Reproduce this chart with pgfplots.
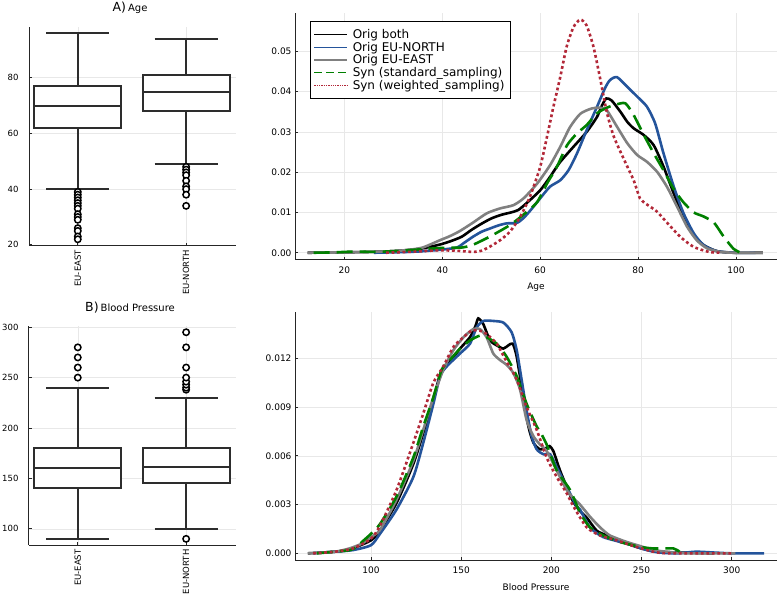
\documentclass[border=0pt]{standalone}
\usepackage{fontspec}
\setmainfont{DejaVu Sans}
\usepackage{pgfplots}
\pgfplotsset{compat=1.18}
\definecolor{cblue}{RGB}{36,84,155}
\definecolor{cred}{RGB}{178,40,56}
\definecolor{cgreen}{RGB}{0,128,0}
\definecolor{cgray}{RGB}{128,128,128}
\definecolor{boxc}{RGB}{45,45,45}
\pgfplotsset{
  base/.style={scale only axis, axis lines*=left,
    axis line style={line width=1pt, black!85},
    tick align=inside, major tick length=3pt,
    tick style={black!85, line width=0.8pt},
    grid=major, grid style={black!9, line width=0.5pt},
    ticklabel style={font=\fontsize{8.5}{10}\selectfont},
    /pgf/number format/assume math mode=true,
    label style={font=\fontsize{9}{10}\selectfont}},
  bl/.style={draw=boxc, line width=2pt, line join=miter, forget plot},
  out/.style={only marks, mark=*, mark size=3.2pt,
    mark options={line width=1.5pt, draw=black, fill=white, solid}, forget plot},
  dens/.style={line width=2.6pt, smooth, tension=0.4,},
  denax/.style={base, ticklabel style={font=\fontsize{9}{10}\selectfont},
    xticklabel style={yshift=-3pt}, xlabel style={yshift=-3pt}, scaled y ticks=false},
  box/.style={base, xmin=0.55, xmax=2.46, xtick={1,2},
    xticklabels={EU-EAST,EU-NORTH},
    x tick label style={rotate=90, anchor=east, font=\fontsize{8.5}{10}\selectfont, xshift=-1pt},
    yticklabel style={xshift=-7pt}},
}
\begin{document}
\begin{tikzpicture}
\useasboundingbox (0,0) rectangle (778pt,597pt);
% ---------------- A) Age boxplot
\begin{axis}[box, at={(29pt,351.3pt)}, anchor=south west,
  width=207pt, height=218.7pt, ymin=19.7, ymax=98.2, ytick={20,40,60,80}]
% EU-EAST: whiskers 40/96, quartiles 62/77, median 70
\addplot[bl] coordinates {(1,77) (1,96)};
\addplot[bl] coordinates {(1,62) (1,40)};
\addplot[bl] coordinates {(0.71,96) (1.29,96)};
\addplot[bl] coordinates {(0.71,40) (1.29,40)};
\addplot[bl, fill=white] coordinates {(0.6,62) (1.4,62) (1.4,77) (0.6,77)} -- cycle;
\addplot[bl] coordinates {(0.6,70) (1.4,70)};
\addplot[out] coordinates {(1,39) (1,38) (1,37) (1,36) (1,35) (1,34) (1,33) (1,31) (1,30) (1,29) (1,26) (1,25) (1,23) (1,22)};
% EU-NORTH: whiskers 49/94, quartiles 68/81, median 75
\addplot[bl] coordinates {(2,81) (2,94)};
\addplot[bl] coordinates {(2,68) (2,49)};
\addplot[bl] coordinates {(1.71,94) (2.29,94)};
\addplot[bl] coordinates {(1.71,49) (2.29,49)};
\addplot[bl, fill=white] coordinates {(1.6,68) (2.4,68) (2.4,81) (1.6,81)} -- cycle;
\addplot[bl] coordinates {(1.6,75) (2.4,75)};
\addplot[out] coordinates {(2,48) (2,47) (2,46) (2,45) (2,43) (2,41) (2,40) (2,38) (2,34)};
\end{axis}
\node at (130pt,589pt) {\fontsize{12.5}{13}\selectfont A)\,{\fontsize{10}{12}\selectfont Age}};
% ---------------- B) Blood pressure boxplot
\begin{axis}[box, at={(29pt,52pt)}, anchor=south west,
  width=207pt, height=219pt, ymin=83.9, ymax=301.2, ytick={100,150,200,250,300}]
% EU-EAST: whiskers 90/240, quartiles 140/180, median 160
\addplot[bl] coordinates {(1,180) (1,240)};
\addplot[bl] coordinates {(1,140) (1,90)};
\addplot[bl] coordinates {(0.71,240) (1.29,240)};
\addplot[bl] coordinates {(0.71,90) (1.29,90)};
\addplot[bl, fill=white] coordinates {(0.6,140) (1.4,140) (1.4,180) (0.6,180)} -- cycle;
\addplot[bl] coordinates {(0.6,160) (1.4,160)};
\addplot[out] coordinates {(1,250) (1,260) (1,270) (1,280)};
% EU-NORTH: whiskers 100/230, quartiles 145/180, median 161
\addplot[bl] coordinates {(2,180) (2,230)};
\addplot[bl] coordinates {(2,145) (2,100)};
\addplot[bl] coordinates {(1.71,230) (2.29,230)};
\addplot[bl] coordinates {(1.71,100) (2.29,100)};
\addplot[bl, fill=white] coordinates {(1.6,145) (2.4,145) (2.4,180) (1.6,180)} -- cycle;
\addplot[bl] coordinates {(1.6,161) (2.4,161)};
\addplot[out] coordinates {(2,90) (2,238) (2,240) (2,243) (2,246) (2,250) (2,260) (2,280) (2,295)};
\end{axis}
\node at (130pt,289pt) {\fontsize{12.5}{13}\selectfont B)\,{\fontsize{10}{12}\selectfont Blood Pressure}};
% ---------------- Age density
\begin{axis}[denax, at={(295pt,337pt)}, anchor=south west,
  width=482pt, height=247.3pt, xmin=9.9, xmax=108.4, ymin=-0.0018, ymax=0.0596,
  xtick={20,40,60,80,100}, ytick={0,0.01,0.02,0.03,0.04,0.05},
  yticklabel style={/pgf/number format/.cd, fixed, fixed zerofill, precision=2},
  xlabel={Age},
  legend cell align=left,
  legend style={at={(0.031,0.966)}, anchor=north west, draw=black, line width=0.8pt,
    font=\fontsize{12}{12}\selectfont, row sep=-2pt, inner xsep=3.5pt, inner ysep=6pt},
  legend image code/.code={\draw[#1, line width=1.2pt] (0pt,0pt) -- (33pt,0pt); \path (35pt,0pt);}]
\addplot[dens, black] coordinates {(12.5,0) (20,0.0001) (25,0.0002) (30,0.0004) (35,0.0009) (38,0.0016) (40,0.0022) (42,0.003) (44,0.0040) (46,0.0057) (48,0.0072) (50,0.0085) (52,0.0094) (54,0.0100) (55.5,0.0106) (57.3,0.0124) (60,0.0155) (62,0.0188) (64,0.0224) (66.8,0.0263) (69.5,0.0300) (71.6,0.0337) (72.6,0.0365) (73.5,0.0383) (74.6,0.0378) (76.4,0.0350) (77.8,0.0325) (79.1,0.0309) (81.2,0.0292) (83.2,0.0267) (85.2,0.0214) (87.3,0.0147) (89.3,0.0089) (91.4,0.0044) (93.4,0.0019) (96.1,0.0004) (99.5,0) (105.5,0)};
\addlegendentry{Orig both}
\addplot[dens, cblue] coordinates {(26,0) (30,0.0001) (35,0.0003) (40,0.0008) (43,0.0013) (44.5,0.0025) (46.3,0.004) (48,0.0052) (49.7,0.006) (51.5,0.0068) (53.2,0.0073) (55.2,0.0074) (56.5,0.0085) (58,0.0105) (60,0.0135) (62,0.0164) (64.1,0.0180) (65.8,0.0205) (67.5,0.0246) (69.5,0.0304) (71.6,0.0362) (73.3,0.0410) (74.3,0.0429) (75.7,0.0436) (77.8,0.0412) (79.8,0.0388) (81.8,0.0363) (83.5,0.0321) (85.2,0.0247) (87.3,0.0164) (89.3,0.0098) (91.4,0.0048) (93.4,0.0019) (96.1,0.0004) (100,0) (104,0)};
\addlegendentry{Orig EU-NORTH}
\addplot[dens, cgray] coordinates {(12.5,0) (20,0.0001) (25,0.0002) (30,0.0004) (33,0.0007) (36,0.0013) (39.5,0.0031) (41.5,0.0041) (43.6,0.0054) (46.3,0.0075) (49.1,0.0098) (51.8,0.0110) (54.5,0.0118) (56.6,0.0135) (59.4,0.0172) (62,0.0217) (64.1,0.0263) (66.1,0.0312) (68.2,0.0345) (70.5,0.0358) (72.3,0.0360) (73.6,0.0354) (75.7,0.0313) (77.8,0.0272) (79.8,0.0243) (81.8,0.0226) (83.9,0.0201) (85.9,0.0164) (88,0.0114) (90,0.0065) (92,0.0031) (94.1,0.0011) (96.8,0.0002) (100,0) (105.5,0)};
\addlegendentry{Orig EU-EAST}
\addplot[dens, cgreen, dash pattern=on 16pt off 7pt, legend image post style={dash pattern=on 8pt off 4pt}] coordinates {(13.7,0) (18,0.0001) (22,0.0003) (26,0.0002) (30,0.0004) (35,0.0008) (40,0.0012) (44,0.0013) (46.3,0.002) (49.7,0.004) (53.2,0.0064) (55.2,0.0081) (57.3,0.0102) (59.4,0.0126) (61.4,0.0172) (63.4,0.0213) (65.5,0.0267) (67.5,0.0296) (69.5,0.0317) (71.6,0.0346) (73.6,0.0360) (75.5,0.0368) (77.4,0.0371) (79.1,0.0342) (81.2,0.0292) (83.2,0.0247) (85.2,0.0205) (87.3,0.0158) (89.3,0.0125) (91.4,0.0100) (93.4,0.0090) (95.5,0.0075) (97.5,0.004) (99.5,0.0010) (101,0)};
\addlegendentry{Syn (standard\_sampling)}
\addplot[dens, cred, dash pattern=on 2.8pt off 2.7pt, legend image post style={dash pattern=on 1.3pt off 1pt}] coordinates {(28.5,0) (33,0.0002) (36,0.0004) (39.5,0.0006) (42.9,0.0005) (46.3,0.0002) (48,0.0005) (49.7,0.0015) (51.8,0.0031) (53.8,0.0052) (55.9,0.0089) (57.9,0.0139) (60,0.0213) (61.4,0.0288) (62.7,0.0362) (64.1,0.0436) (65.4,0.0511) (66.8,0.0560) (68.2,0.0579) (69.5,0.0564) (70.9,0.0511) (72.2,0.0436) (73.6,0.0350) (75.0,0.0290) (77.0,0.0235) (79.1,0.0180) (80.4,0.0135) (81.8,0.0120) (83.8,0.0103) (85.9,0.0075) (88.6,0.0040) (91.3,0.0015) (94.5,0.0002) (97,0)};
\addlegendentry{Syn (weighted\_sampling)}
\end{axis}
% ---------------- Blood pressure density
\begin{axis}[denax, at={(295pt,37pt)}, anchor=south west,
  width=482pt, height=248.3pt, xmin=57.9, xmax=325.1, ymin=-0.00041, ymax=0.01487,
  xtick={100,150,200,250,300}, ytick={0,0.003,0.006,0.009,0.012},
  yticklabel style={/pgf/number format/.cd, fixed, fixed zerofill, precision=3},
  xlabel={Blood Pressure}]
\addplot[dens, black] coordinates {(65,0) (80,0.0001) (86.5,0.0002) (92,0.0004) (100,0.0008) (105,0.0014) (114.2,0.0031) (123.5,0.0055) (129,0.0074) (134.6,0.0095) (138.3,0.0110) (140.5,0.0114) (143.8,0.0118) (149.4,0.0126) (154.9,0.0133) (158,0.0140) (159.5,0.01446) (162.3,0.0141) (166,0.0131) (169.7,0.0128) (173.4,0.0126) (176.2,0.0128) (178.6,0.0129) (180.8,0.0121) (184.5,0.0096) (187.3,0.0078) (190.1,0.0068) (193.7,0.0064) (197.4,0.0065) (199,0.0066) (201.1,0.0063) (204.8,0.0051) (208.5,0.0041) (212,0.0032) (215.9,0.0026) (219.6,0.0022) (225.1,0.0014) (230.7,0.0011) (236,0.0008) (241.8,0.0006) (250,0.0003) (260,0.0001) (270,0.00005) (290,0)};
\addplot[dens, cblue] coordinates {(68,0) (80,0.0001) (90,0.0002) (100,0.0005) (105,0.0012) (114.2,0.0027) (123.5,0.0047) (129,0.0068) (134.6,0.0092) (138.3,0.0109) (142,0.0115) (149.4,0.0123) (154.9,0.0129) (158.6,0.0139) (162.3,0.0143) (167.8,0.0143) (173.4,0.0142) (178,0.0136) (180.8,0.0125) (183.5,0.0107) (186.3,0.0088) (189.1,0.0072) (191.9,0.0064) (195.6,0.0061) (199.3,0.0061) (203,0.0053) (208.5,0.0041) (214,0.0029) (215.9,0.0027) (221.4,0.0016) (228.8,0.0010) (241.8,0.0006) (252.9,0.0002) (260,0.00005) (270,0) (280,0.0001) (290,0.00005) (300,0) (318,0)};
\addplot[dens, cgray] coordinates {(65,0) (80,0.0001) (88,0.0003) (95,0.0006) (100,0.0010) (105,0.00144) (114.2,0.0033) (123.5,0.0057) (129,0.0076) (134.6,0.0096) (140.1,0.0113) (145.7,0.0125) (151.3,0.0133) (156.7,0.0138) (160.4,0.0138) (164.1,0.0133) (167.8,0.0123) (171.5,0.0119) (175.2,0.0116) (178.9,0.0111) (182.6,0.0101) (186.3,0.0082) (190.1,0.0072) (193.7,0.0067) (197.4,0.0063) (203,0.0051) (208.5,0.0039) (212.2,0.0034) (215.9,0.0030) (221.4,0.00226) (227,0.0016) (232.5,0.0011) (241.8,0.0007) (249.2,0.00045) (256.6,0.0002) (264,0.0001) (275,0) (302,0)};
\addplot[dens, cgreen, dash pattern=on 16pt off 7pt] coordinates {(70,0) (80,0.0001) (88.4,0.0002) (92,0.0004) (96,0.0008) (100,0.0012) (105,0.0018) (114.2,0.0035) (123.5,0.0059) (129,0.0078) (134.6,0.0096) (139.2,0.0113) (143.8,0.0119) (149.4,0.0126) (154.9,0.0131) (160.4,0.0134) (164.1,0.0133) (169.7,0.0129) (175.2,0.0121) (180.8,0.0109) (186.3,0.0092) (191.9,0.0078) (193.7,0.0075) (197.4,0.0067) (203,0.0051) (210.4,0.0039) (215.9,0.0025) (221.4,0.0016) (228.8,0.0011) (238,0.0007) (249.2,0.0004) (256.6,0.0003) (267.7,0.0003) (271,0.0001)};
\addplot[dens, cred, dash pattern=on 2.8pt off 2.7pt] coordinates {(68,0) (80,0.0001) (90,0.0003) (100,0.0009) (105,0.0017) (114.2,0.0039) (123.5,0.0068) (129,0.0086) (134.6,0.0105) (140.1,0.0115) (145.7,0.0127) (151.3,0.0133) (155.8,0.0137) (160.4,0.0137) (164.1,0.0135) (169.7,0.0129) (175.2,0.0118) (180.8,0.0107) (186.3,0.0090) (191.9,0.0076) (197.4,0.0059) (203,0.0047) (208.5,0.0037) (212.2,0.0029) (219.6,0.0016) (227,0.0011) (236.2,0.0008) (245.5,0.00045) (256.6,0.0001) (265,0) (300,0)};
\end{axis}
\end{tikzpicture}
\end{document}
